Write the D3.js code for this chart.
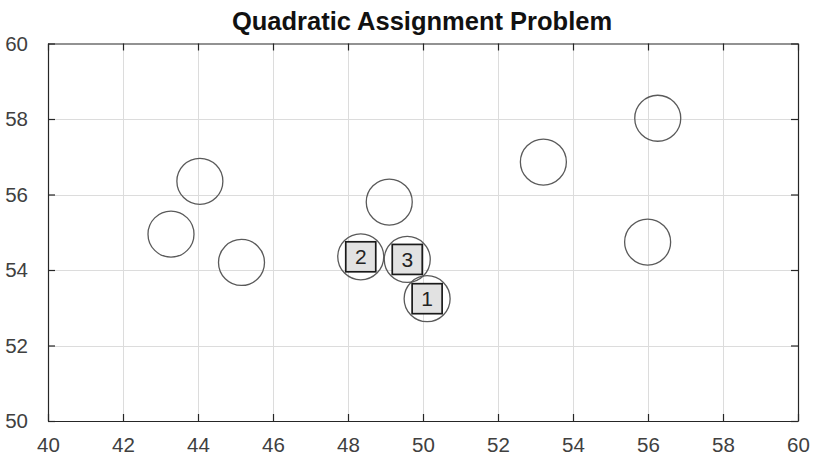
<!DOCTYPE html>
<html>
<head>
<meta charset="utf-8">
<script src="https://cdn.jsdelivr.net/npm/d3@7"></script>
<style>
  html, body { margin: 0; padding: 0; background: #fff; }
  svg { display: block; font-family: "Liberation Sans", Arial, sans-serif; }
</style>
</head>
<body>
<svg id="chart" width="814" height="460"></svg>
<script>
// Candidate locations (circles)
const locX = [44.05, 43.28, 45.16, 49.10, 48.34, 49.58, 50.11, 53.21, 55.99, 56.26];
const locY = [56.35, 54.95, 54.20, 55.80, 54.35, 54.28, 53.24, 56.86, 54.74, 58.02];

// Facilities placed on locations (labelled squares)
const facilityLabels = ["1", "2", "3"];
const facilityX = [50.11, 48.34, 49.58];
const facilityY = [53.24, 54.35, 54.28];

const xTicks = [40, 42, 44, 46, 48, 50, 52, 54, 56, 58, 60];
const yTicks = [50, 52, 54, 56, 58, 60];
const titleText = "Quadratic Assignment Problem";

const svg = d3.select("#chart");
const m = { left: 48, right: 798, top: 43.5, bottom: 421 };

const x = d3.scaleLinear().domain([40, 60]).range([m.left, m.right]);
const y = d3.scaleLinear().domain([50, 60]).range([m.bottom, m.top]);

// grid
const grid = svg.append("g").attr("stroke", "#dcdcdc").attr("stroke-width", 1);
grid.selectAll("line.vx").data(xTicks.slice(1, -1)).join("line")
  .attr("x1", d => Math.round(x(d)) + 0.5).attr("x2", d => Math.round(x(d)) + 0.5)
  .attr("y1", m.top).attr("y2", m.bottom);
grid.selectAll("line.hy").data(yTicks.slice(1, -1)).join("line")
  .attr("y1", d => Math.round(y(d)) + 0.5).attr("y2", d => Math.round(y(d)) + 0.5)
  .attr("x1", m.left).attr("x2", m.right);

// axes (inward ticks on all four sides)
const tickLen = 7;
const axisColor = "#262626";
const labelColor = "#404040";
const fontSize = 20.5;

const bottomAxis = d3.axisBottom(x).tickValues(xTicks).tickFormat(d3.format("d"))
  .tickSizeInner(-tickLen).tickSizeOuter(0).tickPadding(tickLen + 9);
const gB = svg.append("g").attr("transform", `translate(0,${m.bottom})`).call(bottomAxis);

const topAxis = d3.axisTop(x).tickValues(xTicks).tickFormat("")
  .tickSizeInner(-tickLen).tickSizeOuter(0);
const gT = svg.append("g").attr("transform", `translate(0,${m.top})`).call(topAxis);

const leftAxis = d3.axisLeft(y).tickValues(yTicks).tickFormat(d3.format("d"))
  .tickSizeInner(-tickLen).tickSizeOuter(0).tickPadding(tickLen + 13);
const gL = svg.append("g").attr("transform", `translate(${m.left},0)`).call(leftAxis);

const rightAxis = d3.axisRight(y).tickValues(yTicks).tickFormat("")
  .tickSizeInner(-tickLen).tickSizeOuter(0);
const gR = svg.append("g").attr("transform", `translate(${m.right},0)`).call(rightAxis);

[gB, gT, gL, gR].forEach(g => {
  g.select(".domain").attr("stroke", axisColor).attr("stroke-width", 1.2);
  g.selectAll(".tick line").attr("stroke", axisColor).attr("stroke-width", 1.2);
  g.selectAll(".tick text").attr("fill", labelColor)
    .attr("font-size", fontSize).attr("font-family", "'Liberation Sans', Arial, sans-serif");
});

// candidate locations
const r = 23;
svg.append("g").selectAll("circle").data(locX).join("circle")
  .attr("cx", (d, i) => x(d)).attr("cy", (d, i) => y(locY[i]))
  .attr("r", r).attr("fill", "none")
  .attr("stroke", "#5a5a5a").attr("stroke-width", 1.3);

// facilities
const s = 30;
const fac = svg.append("g").selectAll("g").data(facilityLabels).join("g")
  .attr("transform", (d, i) => `translate(${x(facilityX[i])},${y(facilityY[i])})`);
fac.append("rect")
  .attr("x", -s / 2).attr("y", -s / 2).attr("width", s).attr("height", s)
  .attr("fill", "#e2e2e2").attr("stroke", "#1a1a1a").attr("stroke-width", 1.7);
fac.append("text")
  .attr("text-anchor", "middle").attr("dy", "0.36em")
  .attr("font-size", 21).attr("fill", "#222")
  .text(d => d);

// title
svg.append("text")
  .attr("x", (m.left + m.right) / 2 - 1).attr("y", 30)
  .attr("text-anchor", "middle")
  .attr("font-size", 25.5).attr("font-weight", "bold").attr("fill", "#111")
  .text(titleText);
</script>
</body>
</html>
